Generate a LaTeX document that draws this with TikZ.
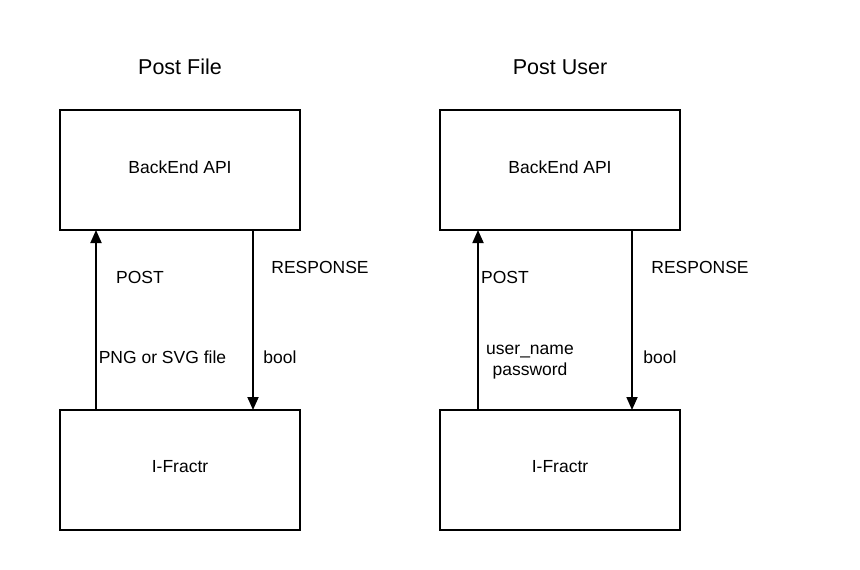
\documentclass[tikz,border=0pt]{standalone}
\usepackage{fontspec}
\setmainfont{Liberation Sans}
\usetikzlibrary{arrows.meta}
\begin{document}
\begin{tikzpicture}[x=1pt,y=-1pt,
  box/.style={draw,line width=1.8pt,minimum width=240pt,minimum height=120pt},
  lbl/.style={font=\fontsize{17.5}{21}\selectfont,align=center,inner sep=0pt},
  ttl/.style={font=\fontsize{21.5}{25}\selectfont,inner sep=0pt},
  conn/.style={line width=1.8pt,-{Triangle[length=13pt,width=11pt]}}]
\useasboundingbox (0,0) rectangle (860,570);
\node[ttl] (t1) at (180,67) {Post File};
\node[ttl] (t2) at (560,67) {Post User};
\node[box] (b1) at (180,170) {};
\node[box] (f1) at (180,470) {};
\node[box] (b2) at (560,170) {};
\node[box] (f2) at (560,470) {};
\node[lbl] (b1t) at (180,167) {BackEnd API};
\node[lbl] (f1t) at (180,467) {I-Fractr};
\node[lbl] (b2t) at (560,167) {BackEnd API};
\node[lbl] (f2t) at (560,467) {I-Fractr};
\coordinate (u1s) at (96,410); \coordinate (u1e) at (96,230);
\coordinate (d1s) at (253,230); \coordinate (d1e) at (253,410);
\coordinate (u2s) at (478,410); \coordinate (u2e) at (478,230);
\coordinate (d2s) at (632,230); \coordinate (d2e) at (632,410);
\draw[conn] (u1s) -- (u1e);
\draw[conn] (d1s) -- (d1e);
\draw[conn] (u2s) -- (u2e);
\draw[conn] (d2s) -- (d2e);
\node[lbl] (p1) at (140,277) {POST};
\node[lbl] (r1) at (320,267) {RESPONSE};
\node[lbl] (pl1) at (162.5,357) {PNG or SVG file};
\node[lbl] (bo1) at (280,357) {bool};
\node[lbl] (p2) at (505,277) {POST};
\node[lbl] (r2) at (700,267) {RESPONSE};
\node[lbl] (pl2) at (530,362) {user\_name\\password};
\node[lbl] (bo2) at (660,357) {bool};
\end{tikzpicture}
\end{document}
